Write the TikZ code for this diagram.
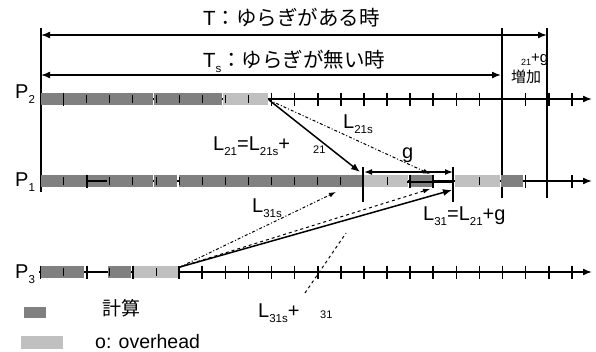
\documentclass[tikz,border=0pt]{standalone}
\usepackage{fontspec}
\setmainfont{Liberation Sans}
\newfontfamily\jp{Noto Sans CJK JP}
\usetikzlibrary{arrows.meta}
\definecolor{cdark}{HTML}{808080}
\definecolor{clight}{HTML}{C0C0C0}
\newcommand{\sbs}[1]{\raisebox{-0.25em}{\fontsize{11.5}{12}\selectfont #1}}
\newcommand{\smalltxt}[1]{{\fontsize{11}{12}\selectfont #1}}
\tikzset{
  lbl/.style={inner sep=0pt, anchor=base west, font=\fontsize{20}{22}\selectfont},
  ttl/.style={inner sep=0pt, anchor=base west, font=\fontsize{20.5}{22}\selectfont},
  axis/.style={line width=1.6pt, -{Latex[length=9pt,width=7pt]}},
  tickT/.style={line width=1.6pt},
  tickS/.style={line width=1pt},
  vline/.style={line width=1.5pt},
  solidarr/.style={line width=1.5pt, -{Latex[length=9pt,width=7pt]}},
  dasharr/.style={line width=1pt, dashed, -{Latex[length=7pt,width=5pt]}},
  dotarr/.style={line width=1pt, dash pattern=on 3pt off 2pt on 1pt off 2pt, -{Latex[length=7pt,width=5pt]}},
  dimarr/.style={line width=1.5pt, {Latex[length=8pt,width=6pt]}-{Latex[length=8pt,width=6pt]}}
}
\begin{document}
\begin{tikzpicture}[x=1pt,y=-1pt]
\useasboundingbox (0,0) rectangle (596,351);
% titles
\node[ttl] (tT) at (203,25) {T{\jp ：ゆらぎがある時}};
\node[ttl] (tTs) at (203,67) {T\sbs{s}{\jp ：ゆらぎが無い時}};
\node[inner sep=0pt, anchor=base west, font=\fontsize{15}{16}\selectfont] (tg) at (521,62) {\raisebox{-0.2em}{\fontsize{9}{10}\selectfont 21}+g};
\node[inner sep=0pt, anchor=base west, font=\fontsize{15}{16}\selectfont\jp] (tinc) at (511,82) {増加};
% main verticals
\coordinate (v0t) at (41,28); \coordinate (v0b) at (41,192);
\draw[vline] (v0t) -- (v0b);
\coordinate (v1t) at (502,28); \coordinate (v1b) at (502,198);
\coordinate (v2t) at (547,28); \coordinate (v2b) at (547,198);
\draw[vline] (v1t) -- (v1b);
\draw[vline] (v2t) -- (v2b);
% T and Ts arrows
\coordinate (Tl) at (41,35); \coordinate (Tr) at (547,35);
\draw[line width=1.5pt, {Latex[length=9pt,width=7pt]}-{Latex[length=9pt,width=7pt]}] (Tl) -- (Tr);
\coordinate (Tsl) at (41,75); \coordinate (Tsr) at (501,75);
\draw[line width=1.5pt, {Latex[length=9pt,width=7pt]}-{Latex[length=9pt,width=7pt]}] (Tsl) -- (Tsr);
% process labels
\node[lbl] (P2) at (15,98) {P\sbs{2}};
\node[lbl] (P1) at (15,186) {P\sbs{1}};
\node[lbl] (P3) at (15,278) {P\sbs{3}};
% axes
\coordinate (a2s) at (41,99); \coordinate (a2e) at (592,99);
\coordinate (a1s) at (41,181); \coordinate (a1e) at (592,181);
\coordinate (a3s) at (39,272); \coordinate (a3e) at (592,272);
\draw[axis] (a2s) -- (a2e);
\draw[axis] (a1s) -- (a1e);
\draw[axis] (a3s) -- (a3e);
% P2 bars
\fill[cdark] (41,93) rectangle (152.5,105);
\fill[cdark] (154,93) rectangle (221.5,105);
\fill[clight] (223,93) rectangle (268,105);
% P1 bars
\fill[cdark] (41,175) rectangle (152.5,187);
\fill[cdark] (154,175) rectangle (177,187);
\fill[cdark] (178.5,175) rectangle (363,187);
\fill[clight] (363,175) rectangle (408,187);
\fill[cdark] (410,175) rectangle (432,187);
\fill[clight] (455,175) rectangle (500,187);
\fill[cdark] (501,175) rectangle (523,187);
\draw[line width=1.6pt] (86,181) -- (107,181);
\draw[line width=1.6pt] (407,182) -- (453,182);
% P3 bars
\fill[cdark] (40,266) rectangle (84,278);
\fill[cdark] (108,266) rectangle (131,278);
\fill[clight] (133,266) rectangle (178,278);
\draw[line width=2pt] (86,272) -- (108,272);
% ticks P2
\foreach \k in {1,10,11,...,23} \draw[tickT] ({40.5+23.1*\k},92.5) -- ++(0,13);
\foreach \k in {2,...,9} \draw[tickS] ({40.5+23.1*\k},95) -- ++(0,8);
% ticks P1
\foreach \k in {2,16,17,21,23} \draw[tickT] ({40.5+23.1*\k},174.5) -- ++(0,13);
\foreach \k in {1,3,4,...,13,15,19} \draw[tickS] ({40.5+23.1*\k},177) -- ++(0,8);
\draw[vline] (363,167) -- (363,202);
\draw[vline] (453,167) -- (453,202);
% ticks P3
\foreach \k in {0,2,4,6,7,...,23} \draw[tickT] ({40.5+23.1*\k},265.5) -- ++(0,13);
\foreach \k in {1,3,5} \draw[tickS] ({40.5+23.1*\k},268) -- ++(0,8);
% g dimension
\coordinate (gl) at (364,172); \coordinate (gr) at (453,172);
\draw[dimarr] (gl) -- (gr);
\node[lbl] (glbl) at (402,158) {g};
% connectors
\coordinate (o2) at (269,100);
\coordinate (e21) at (360,172);
\coordinate (e21s) at (430,174);
\coordinate (o3) at (180,267);
\coordinate (e31) at (452,190);
\coordinate (e31d) at (430,189);
\coordinate (e31s) at (336,192);
\coordinate (ldA) at (305,293);
\coordinate (ldB) at (346,233);
\draw[dotarr] (o2) -- (e21s);
\draw[solidarr] (o2) -- (e21);
\draw[dotarr] (o3) -- (e31s);
\draw[dasharr] (o3) -- (e31d);
\draw[solidarr] (o3) -- (e31);
\draw[line width=1pt, dashed] (ldA) -- (ldB);
% connector labels
\node[lbl] (l21) at (213,150) {L\sbs{21}=L\sbs{21s}+};
\node[inner sep=0pt, anchor=base west] (d21) at (313,153) {\smalltxt{21}};
\node[lbl] (l21s) at (343,128) {L\sbs{21s}};
\node[lbl] (l31) at (423,220) {L\sbs{31}=L\sbs{21}+g};
\node[lbl] (l31s) at (252,212) {L\sbs{31s}};
\node[lbl] (l31d) at (258,317) {L\sbs{31s}+};
\node[inner sep=0pt, anchor=base west] (d31) at (320,318) {\smalltxt{31}};
% legend
\fill[cdark] (24,307) rectangle (46,318);
\fill[clight] (21,336) rectangle (63,349);
\node[inner sep=0pt, font=\fontsize{19}{21}\selectfont\jp] (lg1) at (121,308) {計算};
\node[inner sep=0pt, anchor=base west, font=\fontsize{19.5}{21}\selectfont] (lg2) at (95,348) {o: overhead};
\end{tikzpicture}
\end{document}
